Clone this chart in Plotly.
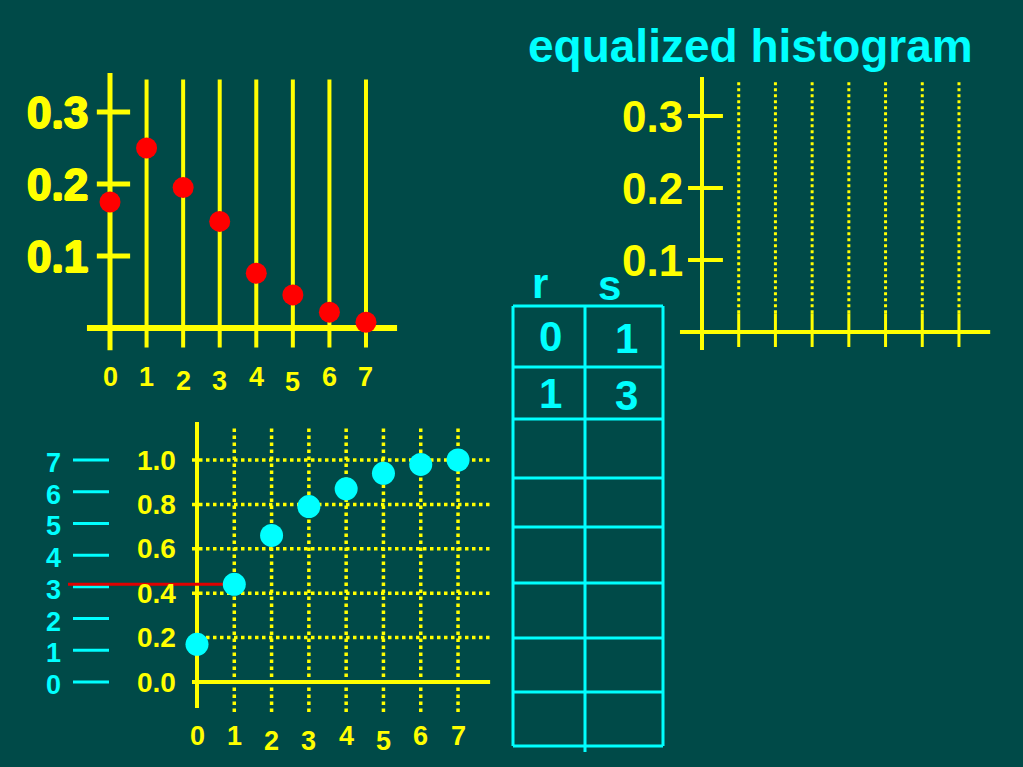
import plotly.graph_objects as go

W, H = 1023, 767
BG = "#004a48"
YEL = "#ffff00"
CYAN = "#00ffff"
RED = "#ff0000"
FONT = "Liberation Sans, Arial, sans-serif"

# ---------------- data ----------------
levels = [0, 1, 2, 3, 4, 5, 6, 7]
level_labels = ["0", "1", "2", "3", "4", "5", "6", "7"]
p_r = [0.175, 0.25, 0.195, 0.148, 0.076, 0.046, 0.022, 0.008]
cdf = [0.17, 0.44, 0.66, 0.79, 0.87, 0.94, 0.98, 1.0]
hist_yticks = [0.1, 0.2, 0.3]
hist_yticklabels = ["0.1", "0.2", "0.3"]
cdf_yticks = [0.0, 0.2, 0.4, 0.6, 0.8, 1.0]
cdf_yticklabels = ["0.0", "0.2", "0.4", "0.6", "0.8", "1.0"]
table_r = ["0", "1", "", "", "", "", "", ""]
table_s = ["1", "3", "", "", "", "", "", ""]
title_text = "equalized histogram"
table_headers = ["r", "s"]

# ---------------- layout helpers (pixel -> paper) ----------------
def px(x):
    return x / W

def py(y):
    return 1 - y / H

def domain_x(origin, scale, lo, hi):
    return [px(origin + scale * lo), px(origin + scale * hi)]

def domain_y(origin, scale, lo, hi):
    return [py(origin - scale * lo), py(origin - scale * hi)]

# chart A (original histogram, top-left)
A = dict(x0=110, sx=36.57, y0=328, sy=720, xr=[-0.8, 8.2], yr=[-0.045, 0.37])
# chart B (equalized histogram, top-right)
B = dict(x0=702, sx=36.71, y0=332, sy=720, xr=[-0.8, 8.2], yr=[-0.045, 0.37])
# chart C (transformation, bottom-left)
C = dict(x0=197, sx=37.29, y0=682, sy=222, xr=[-5.2, 8.2], yr=[-0.25, 1.2])

fig = go.Figure()
shapes = []
annotations = []


def line(xref, yref, x0, y0, x1, y1, color=YEL, width=4, dash="solid", layer="below"):
    shapes.append(dict(type="line", xref=xref, yref=yref, x0=x0, y0=y0, x1=x1, y1=y1,
                       line=dict(color=color, width=width, dash=dash), layer=layer))


def text(t, x, y, xref="paper", yref="paper", size=28, color=YEL, xanchor="center",
         yanchor="middle", yshift=0, shadow=None):
    f = dict(family=FONT, size=size, color=color, weight="bold")
    if shadow:
        f["shadow"] = shadow
    annotations.append(dict(text=t, x=x, y=y, xref=xref, yref=yref, showarrow=False,
                            font=f, xanchor=xanchor, yanchor=yanchor, yshift=yshift))

# ---------------- chart A ----------------
for i in levels[1:]:
    line("x", "y", i, -0.027, i, 0.345, width=4)
line("x", "y", 0, -0.031, 0, 0.354, width=5)
line("x", "y", -0.63, 0, 7.85, 0, width=6)
for v in hist_yticks:
    line("x", "y", -0.36, v, 0.55, v, width=5)
heavy = "1px 0px 0px #ffff00, -1px 0px 0px #ffff00, 0px 1px 0px #ffff00, 0px -1px 0px #ffff00"
for v, lab in zip(hist_yticks, hist_yticklabels):
    text(lab, px(90), v, yref="y", size=44, xanchor="right", shadow=heavy)
stagger = [0, 0, -4, -4, 0, -5, 0, 0]
for i, lab, s in zip(levels, level_labels, stagger):
    text(lab, i, py(377), xref="x", size=27, yshift=s)

fig.add_trace(go.Scatter(x=levels, y=p_r, mode="markers", xaxis="x", yaxis="y",
                         marker=dict(color=RED, size=21), cliponaxis=False,
                         showlegend=False, hoverinfo="skip"))

# ---------------- chart B ----------------
for i in levels[1:]:
    line("x2", "y2", i, 0.026, i, 0.347, width=3, dash="dot")
    line("x2", "y2", i, -0.021, i, 0.026, width=3)
line("x2", "y2", 0, -0.025, 0, 0.354, width=4)
line("x2", "y2", -0.6, 0, 7.85, 0, width=4)
for v in hist_yticks:
    line("x2", "y2", -0.38, v, 0.57, v, width=4)
for v, lab in zip(hist_yticks, hist_yticklabels):
    text(lab, px(685), v, yref="y2", size=44, xanchor="right")
text(title_text, px(750), py(46), size=46, color=CYAN)

# ---------------- chart C ----------------
for v in cdf_yticks[1:]:
    line("x3", "y3", -0.134, v, 7.9, v, width=3.5, dash="dot")
for i in levels[1:]:
    line("x3", "y3", i, -0.135, i, 1.149, width=3.5, dash="dot")
line("x3", "y3", 0, -0.117, 0, 1.171, width=4)
line("x3", "y3", -0.134, 0, 7.86, 0, width=4)
for v, lab in zip(cdf_yticks, cdf_yticklabels):
    text(lab, px(178), v, yref="y3", size=28, xanchor="right")
stagger_c = [0, 0, -5, -5, 0, -5, 0, 0]
for i, lab, s in zip(levels, level_labels, stagger_c):
    text(lab, i, py(736), xref="x3", size=27, yshift=s)
# output levels s = k/7 on the left
for k, lab in zip(levels, level_labels):
    v = k / levels[-1]
    text(lab, px(53), v, yref="y3", size=27, color=CYAN, yshift=-3)
    shapes.append(dict(type="line", xref="paper", yref="y3", x0=px(73), x1=px(109),
                       y0=v, y1=v, line=dict(color=CYAN, width=3), layer="below"))

# red mapping line from r=1 to its output level
red_left = (68 - C["x0"]) / C["sx"]
fig.add_trace(go.Scatter(x=[red_left, levels[1]], y=[cdf[1], cdf[1]], mode="lines",
                         xaxis="x3", yaxis="y3", line=dict(color="#e00000", width=3),
                         cliponaxis=False, showlegend=False, hoverinfo="skip"))
fig.add_trace(go.Scatter(x=levels, y=cdf, mode="markers", xaxis="x3", yaxis="y3",
                         marker=dict(color=CYAN, size=23), cliponaxis=False,
                         showlegend=False, hoverinfo="skip"))

# ---------------- table ----------------
tx_l, tx_m, tx_r = 513, 585, 663
row_edges = [306, 367, 419, 478, 527, 583, 638, 692, 746]
for ye in row_edges:
    shapes.append(dict(type="line", xref="paper", yref="paper", x0=px(tx_l), x1=px(tx_r),
                       y0=py(ye), y1=py(ye), line=dict(color=CYAN, width=3)))
for xe, bottom in [(tx_l, 746), (tx_m, 752), (tx_r, 746)]:
    shapes.append(dict(type="line", xref="paper", yref="paper", x0=px(xe), x1=px(xe),
                       y0=py(row_edges[0]), y1=py(bottom), line=dict(color=CYAN, width=3)))
text(table_headers[0], px(540), py(283), size=42, color=CYAN)
text(table_headers[1], px(609), py(285), size=42, color=CYAN)
for k, (rv, sv) in enumerate(zip(table_r, table_s)):
    yc = (row_edges[k] + row_edges[k + 1]) / 2
    if rv:
        text(rv, px(550), py(yc), size=42, color=CYAN)
    if sv:
        text(sv, px(626), py(yc + 2), size=42, color=CYAN)

# ---------------- axes ----------------
ax_common = dict(visible=False, showgrid=False, zeroline=False, fixedrange=True)
fig.update_layout(
    width=W, height=H,
    margin=dict(l=0, r=0, t=0, b=0),
    paper_bgcolor=BG, plot_bgcolor="rgba(0,0,0,0)",
    showlegend=False,
    xaxis=dict(domain=domain_x(A["x0"], A["sx"], *A["xr"]), range=A["xr"], anchor="y", **ax_common),
    yaxis=dict(domain=domain_y(A["y0"], A["sy"], *A["yr"]), range=A["yr"], anchor="x", **ax_common),
    xaxis2=dict(domain=domain_x(B["x0"], B["sx"], *B["xr"]), range=B["xr"], anchor="y2", **ax_common),
    yaxis2=dict(domain=domain_y(B["y0"], B["sy"], *B["yr"]), range=B["yr"], anchor="x2", **ax_common),
    xaxis3=dict(domain=domain_x(C["x0"], C["sx"], *C["xr"]), range=C["xr"], anchor="y3", **ax_common),
    yaxis3=dict(domain=domain_y(C["y0"], C["sy"], *C["yr"]), range=C["yr"], anchor="x3", **ax_common),
    shapes=shapes,
    annotations=annotations,
)

fig.write_html("out.html", config={"displayModeBar": False},
               post_script="document.body.style.margin='0';document.body.style.overflow='hidden';")
